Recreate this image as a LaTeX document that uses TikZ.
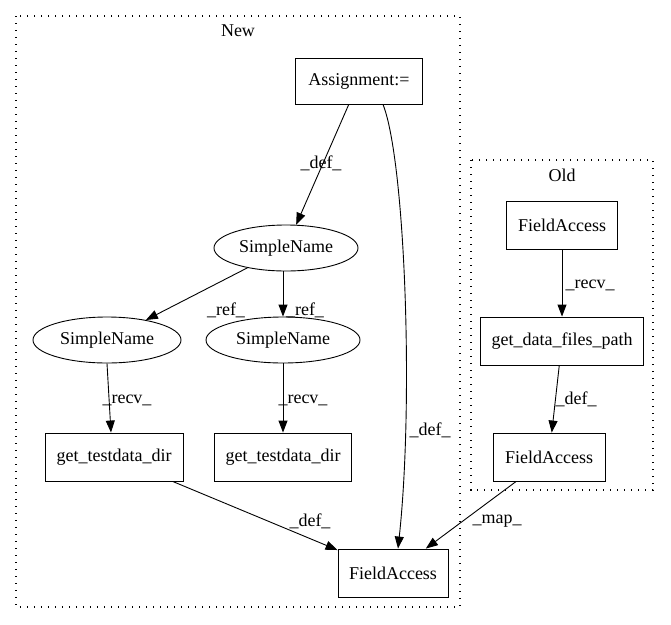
\documentclass[tikz,border=0pt]{standalone}
\usepackage{fontspec}
\setmainfont{Liberation Serif}
\usetikzlibrary{arrows.meta,shapes.geometric}

\begin{document}
\begin{tikzpicture}[x=1pt,y=-1pt,
  font=\fontsize{18}{21}\selectfont,
  box/.style={draw, line width=0.9pt, rectangle, inner sep=0pt, minimum height=48pt},
  oval/.style={draw, line width=0.9pt, ellipse, inner sep=0pt, minimum width=146pt, minimum height=46pt},
  cluster/.style={draw, line width=1.2pt, dash pattern=on 1.3pt off 5.7pt},
  edge/.style={line width=0.9pt, -{Triangle[length=12pt,width=9pt]}},
  lbl/.style={inner sep=0pt}]
\useasboundingbox (0,0) rectangle (671,624);

% draw the two clusters
\draw[cluster] (16,16) rectangle (460,607);
\node (newlbl) at (238,31) {New};
\draw[cluster] (471,160) rectangle (653,490);
\node (oldlbl) at (562,175) {Old};

% nodes of the new code
\node[box, minimum width=127pt, minimum height=46pt] (assign) at (359,81) {Assignment:=};
\node[oval, minimum width=144pt] (sname) at (286,248) {SimpleName};
\node[oval, minimum width=148pt] (snameL) at (107,340) {SimpleName};
\node[oval, minimum width=154pt] (snameR) at (283,340) {SimpleName};
\node[box, minimum width=138pt] (getL) at (114,457) {get\_testdata\_dir};
\node[box, minimum width=137pt] (getR) at (283,457) {get\_testdata\_dir};
\node[box, minimum width=110pt] (fa) at (393,573) {FieldAccess};

% nodes of the old code
\node[box, minimum width=111pt] (faTop) at (562,225) {FieldAccess};
\node[box, minimum width=163pt] (getdata) at (562,341) {get\_data\_files\_path};
\node[box, minimum width=112pt] (faOld) at (549,457) {FieldAccess};

% connectors
\draw[edge] (assign) -- (sname);
\draw[edge] ([xshift=24pt]assign.south) .. controls (405,160) and (414,400) .. ([xshift=5pt]fa.north);
\draw[edge] (sname) -- (snameL);
\draw[edge] ([xshift=-3pt]sname.south) -- (snameR.north);
\draw[edge] (snameL.south) -- ([xshift=-3pt]getL.north);
\draw[edge] (snameR.south) -- (getR.north);
\draw[edge] (getL) -- (fa);
\draw[edge] (faTop) -- (getdata);
\draw[edge] (getdata) -- (faOld);
\draw[edge] (faOld) -- (fa);

% edge labels
\node[lbl] (l1) at (321,163) {\_def\_};
\node[lbl] (l2) at (430,430) {\_def\_};
\node[lbl] (l3) at (226,310) {\_ref\_};
\node[lbl] (l4) at (305,310) {\_ref\_};
\node[lbl] (l5) at (127,400) {\_recv\_};
\node[lbl] (l6) at (303,400) {\_recv\_};
\node[lbl] (l7) at (310,521) {\_def\_};
\node[lbl] (l8) at (590,285) {\_recv\_};
\node[lbl] (l9) at (576,399) {\_def\_};
\node[lbl] (l10) at (497,521) {\_map\_};

\end{tikzpicture}
\end{document}
